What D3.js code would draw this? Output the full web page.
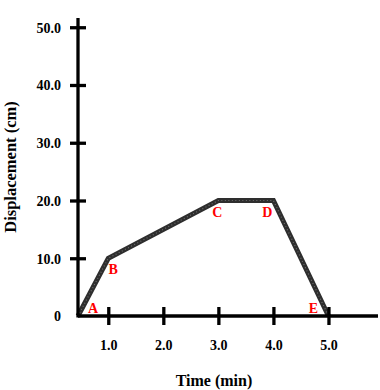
<!DOCTYPE html>
<html>
<head>
<meta charset="utf-8">
<script src="https://cdn.jsdelivr.net/npm/d3@7"></script>
<style>
html,body{margin:0;padding:0;background:#fff;}
svg{display:block;}
</style>
</head>
<body>
<svg id="chart" width="380" height="390"></svg>
<script>
// Data
const pointLabels = ["A", "B", "C", "D", "E"];
const timeValues = [0.45, 1.0, 3.0, 4.0, 5.0];
const displacementValues = [0, 10, 20, 20, 0];
const xTickValues = [1, 2, 3, 4, 5];
const xTickLabels = ["1.0", "2.0", "3.0", "4.0", "5.0"];
const yTickValues = [0, 10, 20, 30, 40, 50];
const yTickLabels = ["0", "10.0", "20.0", "30.0", "40.0", "50.0"];
const xDomain = [0.45, 5.9];
const yDomain = [0, 51.6];

// label offsets (style)
const labelOffsets = [[15, -3], [5, 16], [-1, 17], [-6, 17], [-15, -3]];

const svg = d3.select("#chart");
const x = d3.scaleLinear().domain(xDomain).range([78, 378]);
const y = d3.scaleLinear().domain(yDomain).range([316, 18]);
const serif = "'Liberation Serif', 'Times New Roman', serif";

// Data line
const data = timeValues.map((t, i) => ({t, v: displacementValues[i], label: pointLabels[i], off: labelOffsets[i]}));
const line = d3.line().x(d => x(d.t)).y(d => y(d.v));
svg.append("path").datum(data)
  .attr("d", line).attr("fill", "none")
  .attr("stroke", "#2e2e2e").attr("stroke-width", 5)
  .attr("stroke-linejoin", "miter");
svg.append("path").datum(data)
  .attr("d", line).attr("fill", "none")
  .attr("stroke", "#8a8a8a").attr("stroke-width", 1.2)
  .attr("stroke-dasharray", "1,2.5").attr("opacity", 0.7);

// Axes
const xAxis = d3.axisBottom(x).tickValues(xTickValues)
  .tickFormat((d, i) => xTickLabels[i]).tickSize(0).tickPadding(0);
const gx = svg.append("g").attr("transform", "translate(0,316)").call(xAxis);
gx.select(".domain").remove();
gx.append("line").attr("x1", x(xDomain[0])).attr("x2", x(xDomain[1]))
  .attr("stroke", "#000").attr("stroke-width", 3.3);
gx.selectAll(".tick line").remove();
gx.selectAll(".tick").append("line").attr("y1", -9).attr("y2", 9)
  .attr("stroke", "#000").attr("stroke-width", 3.3);
gx.selectAll(".tick text").attr("y", 34).attr("dy", 0)
  .attr("fill", "#000").attr("font-family", serif)
  .attr("font-size", 14).attr("font-weight", "bold");

const yAxis = d3.axisLeft(y).tickValues(yTickValues)
  .tickFormat((d, i) => yTickLabels[i]).tickSize(0).tickPadding(0);
const gy = svg.append("g").attr("transform", "translate(78,0)").call(yAxis);
gy.select(".domain").remove();
gy.append("line").attr("y1", y(yDomain[0]) + 1.6).attr("y2", y(yDomain[1]))
  .attr("stroke", "#000").attr("stroke-width", 3.3);
gy.selectAll(".tick line").remove();
gy.selectAll(".tick").filter(d => d !== 0).append("line").attr("x1", -8).attr("x2", 8)
  .attr("stroke", "#000").attr("stroke-width", 3.3);
gy.selectAll(".tick text").attr("x", -17).attr("dy", "0.35em")
  .attr("fill", "#000").attr("font-family", serif)
  .attr("font-size", 14).attr("font-weight", "bold");

// Point labels
svg.selectAll(".ptlabel").data(data).enter().append("text")
  .attr("class", "ptlabel")
  .attr("x", d => x(d.t) + d.off[0]).attr("y", d => y(d.v) + d.off[1])
  .attr("text-anchor", "middle")
  .attr("fill", "#ff0000").attr("font-family", serif)
  .attr("font-size", 14).attr("font-weight", "bold")
  .text(d => d.label);

// Axis titles
svg.append("text").attr("x", 214).attr("y", 386)
  .attr("text-anchor", "middle").attr("font-family", serif)
  .attr("font-size", 16).attr("font-weight", "bold").text("Time (min)");
svg.append("text").attr("transform", "translate(16,167) rotate(-90)")
  .attr("text-anchor", "middle").attr("font-family", serif)
  .attr("font-size", 16.5).attr("font-weight", "bold").text("Displacement (cm)");
</script>
</body>
</html>
